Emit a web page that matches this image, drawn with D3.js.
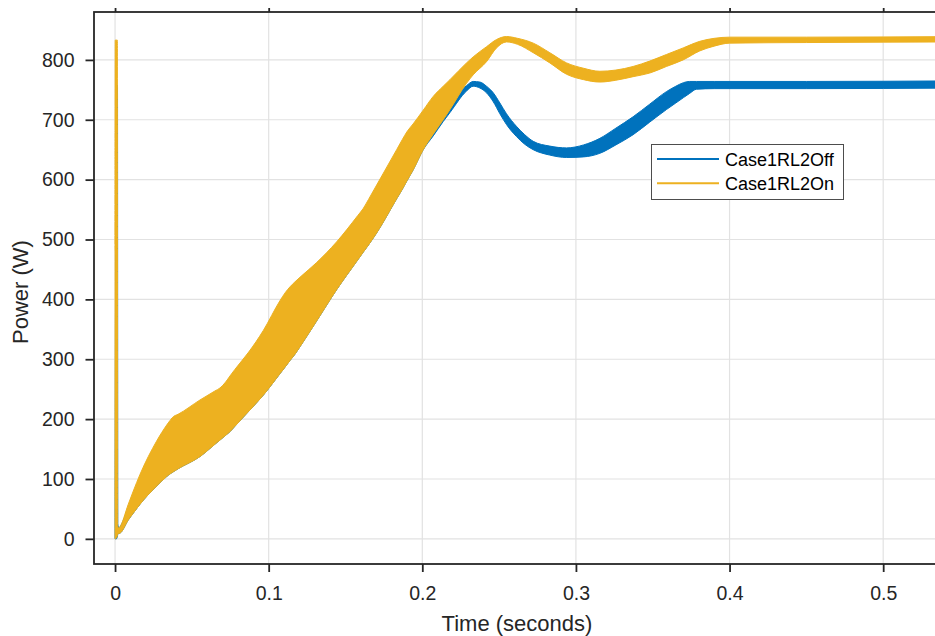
<!DOCTYPE html>
<html>
<head>
<meta charset="utf-8">
<script src="https://cdn.jsdelivr.net/npm/d3@7"></script>
<style>
  html, body { margin: 0; padding: 0; background: #fff; }
  svg { display: block; font-family: "Liberation Sans", Arial, Helvetica, sans-serif; }
</style>
</head>
<body>
<svg id="chart" width="935" height="636"></svg>
<script>
// Power response envelopes (W) over time (s); the switching ripple forms a band
// bounded by an upper and a lower envelope.
const seriesNames = ["Case1RL2Off", "Case1RL2On"];
const seriesColors = ["#0072BD", "#EDB120"];

const offTime  = [0, 0.0008, 0.0016, 0.0018, 0.0025, 0.0032, 0.0085, 0.0119, 0.0163, 0.027, 0.0336, 0.035, 0.0379, 0.041, 0.0553, 0.065, 0.0683, 0.072, 0.0748, 0.078, 0.087, 0.0965, 0.1074, 0.111, 0.1139, 0.117, 0.1204, 0.131, 0.1442, 0.158, 0.1616, 0.165, 0.1703, 0.1833, 0.187, 0.19, 0.194, 0.2006, 0.2071, 0.2136, 0.218, 0.2288, 0.2331, 0.2375, 0.2418, 0.2462, 0.2505, 0.2548, 0.2613, 0.2667, 0.2722, 0.283, 0.2939, 0.305, 0.3156, 0.326, 0.3372, 0.348, 0.3589, 0.365, 0.37, 0.374, 0.3785, 0.39, 0.45, 0.55];
const offUpper = [0, 758, 758, 25, 18, 20, 50, 63, 78, 108, 124, 127, 132, 137, 157.5, 178, 185, 193, 199, 208, 233, 260, 296, 308, 318, 328, 341, 383, 436, 486, 499, 511, 531, 588, 604, 618, 636, 670, 700, 715, 729, 757, 764, 763, 756, 745, 728, 710, 689, 675, 664, 656, 653, 658, 669, 686, 705, 726, 747, 756, 762, 764, 764, 764, 764, 765];
const offLower = [0, 0, 5, 8, 9, 9.5, 31, 43, 58, 88, 104, 107, 112, 117, 137.5, 158, 165, 173, 179, 188, 213, 240, 276, 288, 298, 308, 321, 363, 416, 466, 479, 491, 511, 568, 584, 598, 616, 650, 673, 697, 712, 748, 756, 753, 745, 730, 710, 692, 672, 659, 650, 641, 637, 638, 644, 658, 675, 696, 717, 728, 737, 744, 751, 752, 752, 753];

const onTime  = [0, 0.0001, 0.0015, 0.0017, 0.0025, 0.0032, 0.0085, 0.0119, 0.0163, 0.027, 0.0336, 0.035, 0.0379, 0.041, 0.0553, 0.065, 0.0683, 0.072, 0.0748, 0.078, 0.087, 0.0965, 0.1074, 0.111, 0.1139, 0.117, 0.1204, 0.131, 0.1442, 0.158, 0.1616, 0.165, 0.1703, 0.1833, 0.187, 0.19, 0.194, 0.2006, 0.2071, 0.2136, 0.218, 0.2288, 0.2331, 0.2418, 0.2483, 0.2548, 0.262, 0.2722, 0.283, 0.2939, 0.305, 0.3156, 0.326, 0.3372, 0.348, 0.3589, 0.3698, 0.3806, 0.39, 0.4001, 0.45, 0.55];
const onUpper = [0, 833, 833, 22, 18, 20, 57, 80, 108, 163, 190, 195, 204, 208, 232, 247, 252, 262, 272, 283, 312, 348, 398, 412, 421, 429, 437, 461, 496, 540, 552, 567, 591, 650, 667, 680, 693, 716, 739, 756, 767, 795, 805, 822, 834, 839, 836, 828, 812, 795, 786, 781, 783, 789, 798, 809, 820, 831, 836, 838, 838, 839];
const onLower = [0, 0, 5, 8, 9, 9.5, 31, 43, 58, 88, 104, 107, 112, 117, 137.5, 158, 165, 173, 179, 188, 213, 240, 276, 288, 298, 308, 321, 363, 416, 466, 479, 491, 511, 568, 584, 598, 616, 650, 676, 700, 717, 761, 775, 797, 820, 830, 826, 812, 795, 776, 767, 763, 766, 772, 778, 789, 800, 815, 823, 828, 829, 830];

const xTicks = [0, 0.1, 0.2, 0.3, 0.4, 0.5];
const yTicks = [0, 100, 200, 300, 400, 500, 600, 700, 800];
const xLabel = "Time (seconds)";
const yLabel = "Power (W)";

const svg = d3.select("#chart");
const plotLeft = 94, plotTop = 12, plotRight = 960, plotBottom = 564;
const axisColor = "#262626";

const x = d3.scaleLinear().domain([-0.0137, 0.55]).range([plotLeft, plotRight]);
const y = d3.scaleLinear().domain([-42, 880]).range([plotBottom, plotTop]);

svg.append("defs").append("clipPath").attr("id", "plotClip")
  .append("rect").attr("x", plotLeft).attr("y", plotTop)
  .attr("width", plotRight - plotLeft).attr("height", plotBottom - plotTop);

// grid
const grid = svg.append("g").attr("stroke", "#e2e2e2").attr("stroke-width", 1.2);
grid.selectAll("line.gx").data(xTicks).join("line").attr("class", "gx")
  .attr("x1", d => x(d)).attr("x2", d => x(d)).attr("y1", plotTop).attr("y2", plotBottom);
grid.selectAll("line.gy").data(yTicks).join("line").attr("class", "gy")
  .attr("x1", plotLeft).attr("x2", plotRight).attr("y1", d => y(d)).attr("y2", d => y(d));

// ripple bands
function band(time, upper, lower) {
  return time.map((t, i) => ({ t, u: upper[i], l: lower[i] }));
}
const bands = [band(offTime, offUpper, offLower), band(onTime, onUpper, onLower)];
const area = d3.area().x(d => x(d.t)).y0(d => y(d.l)).y1(d => y(d.u)).curve(d3.curveMonotoneX);
const plot = svg.append("g").attr("clip-path", "url(#plotClip)");
bands.forEach((b, i) => {
  plot.append("path").datum(b).attr("d", area)
    .attr("fill", seriesColors[i]).attr("stroke", seriesColors[i])
    .attr("stroke-width", 1).attr("stroke-linejoin", "round");
});

// axes box
svg.append("rect").attr("x", plotLeft).attr("y", plotTop)
  .attr("width", plotRight - plotLeft).attr("height", plotBottom - plotTop)
  .attr("fill", "none").attr("stroke", axisColor).attr("stroke-width", 1.8);

// bottom axis
const xAxis = d3.axisBottom(x).tickValues(xTicks).tickSize(8).tickPadding(14)
  .tickFormat(d => d === 0 ? "0" : d3.format(".1f")(d));
const gx = svg.append("g").attr("transform", `translate(0,${plotBottom})`).call(xAxis);
gx.select(".domain").remove();
gx.selectAll(".tick line").attr("stroke", axisColor).attr("stroke-width", 1.8);
gx.selectAll(".tick text").attr("fill", axisColor).attr("font-size", 19.5)
  .attr("font-family", "Liberation Sans, Arial, sans-serif");

// top ticks
const gxt = svg.append("g").attr("transform", `translate(0,${plotTop})`)
  .call(d3.axisTop(x).tickValues(xTicks).tickSize(4).tickFormat(""));
gxt.select(".domain").remove();
gxt.selectAll(".tick line").attr("stroke", axisColor).attr("stroke-width", 1.8);

// left axis
const yAxis = d3.axisLeft(y).tickValues(yTicks).tickSize(8.5).tickPadding(11);
const gy = svg.append("g").attr("transform", `translate(${plotLeft},0)`).call(yAxis);
gy.select(".domain").remove();
gy.selectAll(".tick line").attr("stroke", axisColor).attr("stroke-width", 1.8);
gy.selectAll(".tick text").attr("fill", axisColor).attr("font-size", 19.5)
  .attr("font-family", "Liberation Sans, Arial, sans-serif");

// axis labels
svg.append("text").attr("x", 517).attr("y", 631).attr("text-anchor", "middle")
  .attr("fill", axisColor).attr("font-size", 22).text(xLabel);
svg.append("text").attr("transform", "translate(28,292) rotate(-90)")
  .attr("text-anchor", "middle").attr("fill", axisColor).attr("font-size", 22).text(yLabel);

// legend
const lg = svg.append("g");
lg.append("rect").attr("x", 651.5).attr("y", 144.5).attr("width", 192).attr("height", 55)
  .attr("fill", "#fff").attr("stroke", "#4d4d4d").attr("stroke-width", 1);
seriesNames.forEach((name, i) => {
  const ly = 159 + i * 24.3;
  lg.append("line").attr("x1", 657).attr("x2", 719).attr("y1", ly).attr("y2", ly)
    .attr("stroke", seriesColors[i]).attr("stroke-width", 2);
  lg.append("text").attr("x", 725).attr("y", ly + 6.5).attr("fill", "#000")
    .attr("font-size", 18).text(name);
});
</script>
</body>
</html>
